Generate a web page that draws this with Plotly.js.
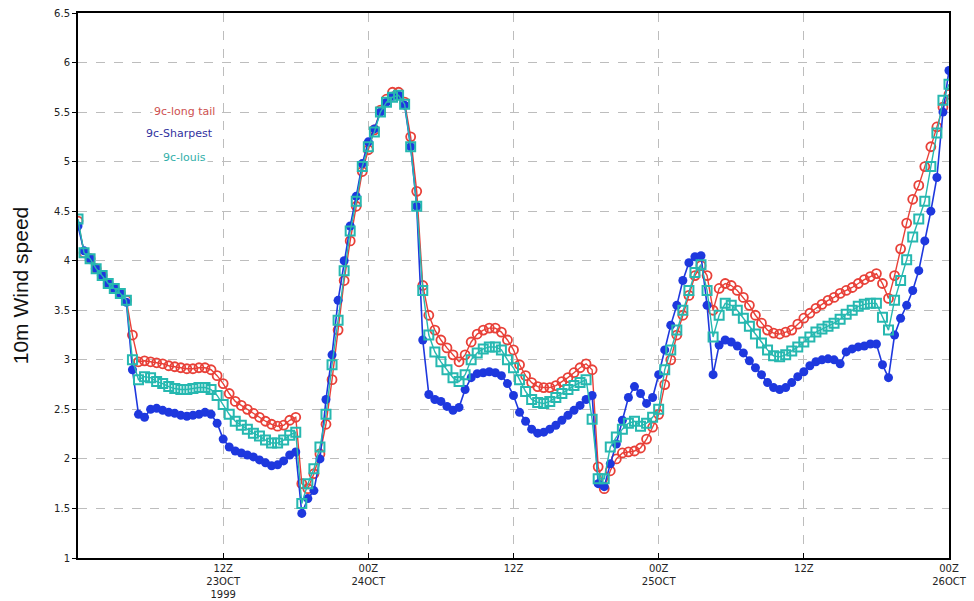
<!DOCTYPE html>
<html>
<head>
<meta charset="utf-8">
<script src="https://cdn.plot.ly/plotly-3.0.1.min.js"></script>
<style>html,body{margin:0;padding:0;background:#fff;}#chart{width:974px;height:601px;}</style>
</head>
<body>
<div id="chart"></div>
<script>
// Hours since 00Z 23 OCT 1999
const hours = [
 0,0.5,1,1.5,2,2.5,3,3.5,4,4.5,5,5.5,6,6.5,7,7.5,8,8.5,9,9.5,10,10.5,11,11.5,
 12,12.5,13,13.5,14,14.5,15,15.5,16,16.5,17,17.5,18,18.5,19,19.5,20,20.5,21,21.5,22,22.5,23,23.5,
 24,24.5,25,25.5,26,26.5,27,27.5,28,28.5,29,29.5,30,30.5,31,31.5,32,32.5,33,33.5,34,34.5,35,35.5,
 36,36.5,37,37.5,38,38.5,39,39.5,40,40.5,41,41.5,42,42.5,43,43.5,44,44.5,45,45.5,46,46.5,47,47.5,
 48,48.5,49,49.5,50,50.5,51,51.5,52,52.5,53,53.5,54,54.5,55,55.5,56,56.5,57,57.5,58,58.5,59,59.5,
 60,60.5,61,61.5,62,62.5,63,63.5,64,64.5,65,65.5,66,66.5,67,67.5,68,68.5,69,69.5,70,70.5,71,71.5,72
];

const longTail = [
 4.40,4.08,4.02,3.92,3.85,3.77,3.72,3.67,3.60,3.25,2.98,2.99,2.98,2.97,2.96,2.94,2.93,2.92,2.91,2.91,2.92,2.92,2.90,2.84,
 2.76,2.66,2.58,2.54,2.50,2.46,2.42,2.38,2.35,2.33,2.34,2.39,2.42,1.75,1.70,1.85,2.05,2.35,2.80,3.30,3.80,4.20,4.55,4.90,
 5.12,5.32,5.52,5.63,5.70,5.70,5.60,5.25,4.70,3.75,3.45,3.30,3.20,3.12,3.05,2.98,3.05,3.18,3.26,3.30,3.32,3.32,3.28,3.20,
 3.10,2.95,2.84,2.77,2.73,2.72,2.72,2.74,2.78,2.82,2.87,2.92,2.96,2.90,1.92,1.70,1.88,2.00,2.06,2.07,2.08,2.11,2.20,2.32,
 2.45,2.75,3.00,3.25,3.45,3.65,3.85,3.95,3.85,3.50,3.72,3.77,3.75,3.70,3.63,3.55,3.45,3.37,3.30,3.27,3.26,3.28,3.30,3.36,
 3.42,3.47,3.52,3.56,3.60,3.63,3.67,3.70,3.73,3.77,3.81,3.84,3.87,3.77,3.62,3.85,4.12,4.38,4.62,4.76,4.95,5.15,5.35,5.55,5.68
];

const sharpest = [
 4.35,4.10,4.02,3.92,3.85,3.77,3.72,3.67,3.58,2.90,2.45,2.42,2.50,2.51,2.49,2.47,2.46,2.44,2.43,2.44,2.45,2.47,2.45,2.36,
 2.20,2.12,2.08,2.06,2.04,2.02,1.99,1.96,1.93,1.94,1.98,2.04,2.07,1.45,1.60,1.68,2.00,2.60,3.05,3.60,4.00,4.35,4.65,4.98,
 5.20,5.33,5.50,5.60,5.66,5.67,5.57,5.15,4.55,3.20,2.65,2.60,2.58,2.53,2.49,2.52,2.70,2.82,2.86,2.87,2.88,2.87,2.84,2.76,
 2.64,2.47,2.38,2.30,2.26,2.27,2.30,2.34,2.39,2.44,2.49,2.54,2.60,2.64,1.75,1.72,1.95,2.15,2.39,2.62,2.73,2.66,2.56,2.62,
 2.85,3.10,3.35,3.55,3.80,3.98,4.04,4.05,3.55,2.85,3.15,3.20,3.18,3.14,3.07,2.99,2.92,2.85,2.77,2.72,2.70,2.72,2.77,2.83,
 2.88,2.94,2.98,3.00,3.01,3.00,2.96,3.08,3.11,3.13,3.14,3.16,3.16,2.95,2.82,3.25,3.42,3.55,3.70,3.90,4.20,4.50,4.84,5.50,5.92
];

const louis = [
 4.42,4.08,4.02,3.92,3.85,3.77,3.72,3.67,3.60,3.00,2.80,2.83,2.82,2.78,2.76,2.73,2.71,2.70,2.70,2.71,2.72,2.72,2.70,2.64,
 2.55,2.45,2.38,2.34,2.30,2.26,2.23,2.19,2.16,2.16,2.19,2.24,2.27,1.55,1.75,1.90,2.12,2.45,2.95,3.40,3.90,4.30,4.60,4.95,
 5.15,5.30,5.50,5.60,5.65,5.67,5.58,5.15,4.55,3.70,3.25,3.08,2.98,2.90,2.82,2.78,2.85,3.00,3.07,3.11,3.13,3.13,3.10,3.00,
 2.92,2.80,2.68,2.60,2.57,2.56,2.58,2.62,2.66,2.70,2.74,2.77,2.80,2.40,1.80,1.80,2.12,2.22,2.30,2.36,2.38,2.33,2.36,2.42,
 2.50,2.90,3.10,3.30,3.50,3.70,3.88,3.96,3.70,3.23,3.45,3.57,3.55,3.50,3.42,3.34,3.26,3.17,3.10,3.04,3.03,3.05,3.09,3.13,
 3.18,3.23,3.28,3.31,3.34,3.37,3.41,3.46,3.50,3.54,3.56,3.57,3.57,3.43,3.30,3.60,3.80,4.01,4.24,4.42,4.60,4.95,5.29,5.62,5.78
];

const seriesNames = ['9c-long tail', '9c-Sharpest', '9c-louis'];
const tickHours = [12, 24, 36, 48, 60, 72];
const tickLabels = ['12Z<br>23OCT<br>1999', '00Z<br>24OCT', '12Z', '00Z<br>25OCT', '12Z', '00Z<br>26OCT'];
const yTicks = [1, 1.5, 2, 2.5, 3, 3.5, 4, 4.5, 5, 5.5, 6, 6.5];

const RED = 'rgb(232,64,56)';
const BLUE = 'rgb(30,56,222)';
const CYAN = 'rgb(38,184,176)';

const traces = [
  {x: hours, y: longTail, name: seriesNames[0], type: 'scatter', mode: 'lines+markers',
   line: {color: RED, width: 1.4},
   marker: {symbol: 'circle-open', size: 9, color: RED, line: {width: 1.8, color: RED}}},
  {x: hours, y: sharpest, name: seriesNames[1], type: 'scatter', mode: 'lines+markers',
   line: {color: BLUE, width: 1.6},
   marker: {symbol: 'circle', size: 9, color: BLUE}},
  {x: hours, y: louis, name: seriesNames[2], type: 'scatter', mode: 'lines+markers',
   line: {color: CYAN, width: 1.4},
   marker: {symbol: 'square-open', size: 9, color: CYAN, line: {width: 2, color: CYAN}}}
];

const layout = {
  width: 974, height: 601,
  margin: {l: 78, r: 25, t: 13, b: 43},
  paper_bgcolor: '#fff', plot_bgcolor: '#fff',
  showlegend: false,
  font: {family: 'DejaVu Sans, sans-serif', size: 10, color: '#222'},
  xaxis: {
    range: [0, 72], tickmode: 'array', tickvals: tickHours, ticktext: tickLabels,
    showgrid: true, gridcolor: '#bdbdbd', griddash: 'dash', gridwidth: 1,
    showline: true, linecolor: '#000', linewidth: 2, mirror: true,
    ticks: 'inside', ticklen: 5, tickcolor: '#000', zeroline: false,
    tickfont: {family: 'DejaVu Sans, sans-serif', size: 10, color: '#222'}
  },
  yaxis: {
    range: [1, 6.5], tickmode: 'array', tickvals: yTicks,
    ticktext: yTicks.map(v => String(v)),
    showgrid: true, gridcolor: '#bdbdbd', griddash: 'dash', gridwidth: 1,
    showline: true, linecolor: '#000', linewidth: 2, mirror: true,
    ticks: 'outside', ticklen: 4, tickcolor: '#000', zeroline: false,
    tickfont: {family: 'DejaVu Sans, sans-serif', size: 10, color: '#222'},
    title: {text: '10m Wind speed', font: {family: 'Liberation Sans, Arial, sans-serif', size: 21, color: '#111'}, standoff: 20}
  },
  annotations: [
    {x: 8.84, y: 5.51, xref: 'x', yref: 'y', text: seriesNames[0], showarrow: false, bgcolor: '#fff',
     font: {family: 'DejaVu Sans, sans-serif', size: 11, color: 'rgb(205,80,80)'}},
    {x: 8.43, y: 5.28, xref: 'x', yref: 'y', text: seriesNames[1], showarrow: false,
     font: {family: 'DejaVu Sans, sans-serif', size: 11, color: 'rgb(50,50,160)'}},
    {x: 8.84, y: 5.04, xref: 'x', yref: 'y', text: seriesNames[2], showarrow: false, bgcolor: '#fff',
     font: {family: 'DejaVu Sans, sans-serif', size: 11, color: 'rgb(50,175,170)'}}
  ]
};

Plotly.newPlot('chart', traces, layout, {displayModeBar: false, staticPlot: true});
</script>
</body>
</html>
